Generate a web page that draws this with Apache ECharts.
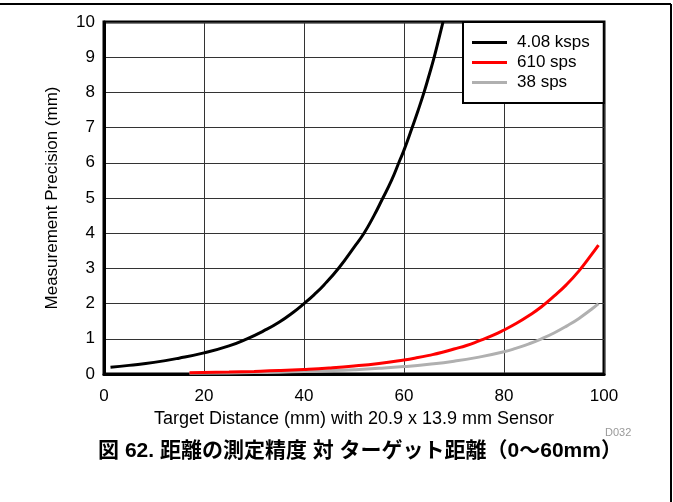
<!DOCTYPE html>
<html>
<head>
<meta charset="utf-8">
<script src="https://cdn.jsdelivr.net/npm/echarts@6/dist/echarts.min.js"></script>
<style>html,body{margin:0;padding:0;background:#fff}#c{width:673px;height:502px}</style>
</head>
<body>
<div id="c"></div>
<script>
// Data
var seriesNames = ['4.08 ksps', '610 sps', '38 sps'];
var xTicks = [0, 20, 40, 60, 80, 100];
var yTicks = [0, 1, 2, 3, 4, 5, 6, 7, 8, 9, 10];

var ksps408X = [1.3, 5, 10, 15, 20, 25, 28.6, 32, 35, 38, 40, 42, 44, 47, 50, 52, 54, 55.6, 57.5, 59.1, 60, 61.6, 62.8, 64, 65, 66, 67, 67.8];
var ksps408Y = [0.19, 0.245, 0.33, 0.45, 0.6, 0.8, 1.0, 1.23, 1.47, 1.77, 2.0, 2.25, 2.53, 3.02, 3.6, 4.0, 4.5, 4.95, 5.5, 6.05, 6.36, 6.99, 7.48, 8.0, 8.48, 8.98, 9.54, 10.0];

var sps610X = [17.1, 25, 30, 35, 40, 45, 50, 55, 60, 62.5, 65, 67.5, 70, 72.5, 75, 77.5, 80, 82.5, 85, 87.5, 90, 92.5, 95, 97.5, 98.9];
var sps610Y = [0.035, 0.055, 0.073, 0.096, 0.128, 0.17, 0.226, 0.3, 0.40, 0.46, 0.53, 0.61, 0.71, 0.81, 0.94, 1.08, 1.25, 1.44, 1.66, 1.91, 2.21, 2.54, 2.93, 3.39, 3.66];

var sps38X = [17.1, 25, 30, 35, 40, 45, 50, 55, 60, 65, 70, 75, 80, 82.5, 85, 87.5, 90, 92.5, 95, 97.5, 98.9];
var sps38Y = [0.02, 0.03, 0.04, 0.053, 0.07, 0.092, 0.121, 0.16, 0.21, 0.277, 0.364, 0.48, 0.63, 0.735, 0.857, 1.0, 1.165, 1.36, 1.58, 1.84, 2.0];

function pairs(xs, ys) { return xs.map(function (x, i) { return [x, ys[i]]; }); }

var FONT = "'Liberation Sans', Arial, sans-serif";
var chart = echarts.init(document.getElementById('c'), null, {renderer: 'canvas'});
chart.setOption({
  animation: false,
  backgroundColor: '#fff',
  grid: {
    left: 104, right: 69, top: 22, bottom: 128,
    show: true, borderColor: '#000', borderWidth: 3, backgroundColor: 'transparent'
  },
  xAxis: {
    type: 'value', min: xTicks[0], max: xTicks[xTicks.length - 1], interval: 20,
    name: 'Target Distance (mm) with 20.9 x 13.9 mm Sensor',
    nameLocation: 'middle', nameGap: 33,
    nameTextStyle: {fontFamily: FONT, fontSize: 18, color: '#000'},
    axisLine: {show: true, lineStyle: {color: '#000', width: 3}},
    axisTick: {show: false},
    axisLabel: {fontFamily: FONT, fontSize: 17, color: '#000', margin: 14},
    splitLine: {show: true, lineStyle: {color: '#333', width: 1}}
  },
  yAxis: {
    type: 'value', min: yTicks[0], max: yTicks[yTicks.length - 1], interval: 1,
    name: 'Measurement Precision (mm)',
    nameLocation: 'middle', nameGap: 43, nameRotate: 90,
    nameTextStyle: {fontFamily: FONT, fontSize: 17, color: '#000'},
    axisLine: {show: true, lineStyle: {color: '#000', width: 3}},
    axisTick: {show: false},
    axisLabel: {fontFamily: FONT, fontSize: 17, color: '#000', margin: 9},
    splitLine: {show: true, lineStyle: {color: '#333', width: 1}}
  },
  legend: {
    data: seriesNames,
    orient: 'vertical',
    left: 463, top: 22,
    padding: [12, 14, 12, 9],
    itemGap: 3,
    itemWidth: 35, itemHeight: 3,
    icon: 'rect',
    backgroundColor: '#fff',
    borderColor: '#000', borderWidth: 2,
    textStyle: {fontFamily: FONT, fontSize: 17, color: '#000', lineHeight: 17, padding: [0, 0, 0, 5]}
  },
  graphic: [
    {type: 'line', shape: {x1: 0, y1: 4, x2: 671, y2: 4}, style: {stroke: '#000', lineWidth: 2}},
    {type: 'line', shape: {x1: 671, y1: 4, x2: 671, y2: 502}, style: {stroke: '#000', lineWidth: 2}},
    {type: 'text', left: 605, top: 427, style: {text: 'D032', fontFamily: FONT, fontSize: 11, fill: '#999'}},
    {type: 'text', x: 360, y: 451, style: {text: '図 62. 距離の測定精度 対 ターゲット距離（0〜60mm）', fontFamily: "'Liberation Sans', 'Noto Sans CJK JP', sans-serif", fontWeight: 'bold', fontSize: 21, fill: '#000', align: 'center', verticalAlign: 'middle'}}
  ],
  series: [
    {name: seriesNames[2], type: 'line', data: pairs(sps38X, sps38Y), showSymbol: false, symbol: 'none', smooth: true, clip: true,
     itemStyle: {color: '#b0b0b0'}, lineStyle: {color: '#b0b0b0', width: 3}, z: 2},
    {name: seriesNames[1], type: 'line', data: pairs(sps610X, sps610Y), showSymbol: false, symbol: 'none', smooth: true, clip: true,
     itemStyle: {color: '#ff0000'}, lineStyle: {color: '#ff0000', width: 3}, z: 3},
    {name: seriesNames[0], type: 'line', data: pairs(ksps408X, ksps408Y), showSymbol: false, symbol: 'none', smooth: true, clip: true,
     itemStyle: {color: '#000'}, lineStyle: {color: '#000', width: 3}, z: 4}
  ]
});
</script>
</body>
</html>
